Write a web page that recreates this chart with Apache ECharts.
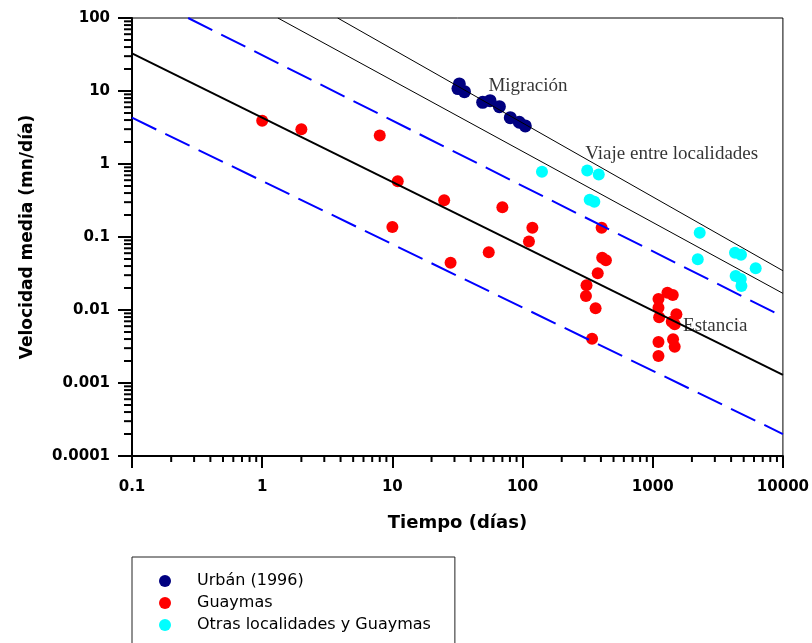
<!DOCTYPE html>
<html>
<head>
<meta charset="utf-8">
<script src="https://cdn.jsdelivr.net/npm/echarts@6/dist/echarts.min.js"></script>
<style>
  html, body { margin: 0; padding: 0; background: #fff; }
  #chart { width: 812px; height: 643px; }
</style>
</head>
<body>
<div id="chart"></div>
<script>
// Mean speed (mn/día) versus elapsed time (días), log–log.

// Urbán (1996) observations: [tiempo, velocidad]
const urbanPoints = [
  [32.7, 12.5], [31.9, 10.8], [35.8, 9.8], [49.4, 7.0], [56.3, 7.36],
  [66.4, 6.1], [80.5, 4.31], [94.4, 3.73], [105, 3.32]
];

// Guaymas observations
const guaymasPoints = [
  [1, 3.9], [2, 3.0], [8, 2.45], [11, 0.58], [10, 0.137],
  [25, 0.318], [28, 0.0445], [55, 0.0617], [70, 0.255], [119, 0.134],
  [112, 0.0867], [405, 0.134], [409, 0.052], [437, 0.048], [378, 0.0318],
  [310, 0.0218], [307, 0.0156], [364, 0.01055], [342, 0.00404],
  [1297, 0.01726], [1426, 0.016], [1107, 0.01415], [1107, 0.01075],
  [1520, 0.00873], [1120, 0.00794], [1400, 0.00692], [1475, 0.00637],
  [1107, 0.00365], [1433, 0.00397], [1475, 0.00314], [1107, 0.00234]
];

// Other localities and Guaymas
const otrasPoints = [
  [141, 0.782], [314, 0.815], [385, 0.718], [328, 0.324], [356, 0.305],
  [2296, 0.1146], [2218, 0.0495], [4285, 0.061], [4764, 0.0573],
  [6180, 0.0373], [4335, 0.0292], [4746, 0.0266], [4800, 0.0213]
];

// Reference lines (end points)
const lineEstancia = [[0.1, 32.8], [10000, 0.00129]];
const lineUpperBand = [[0.27, 100], [10000, 0.0081]];
const lineLowerBand = [[0.1, 4.31], [10000, 0.0002]];
const lineViaje = [[1.32, 100], [10000, 0.0169]];
const lineMigracion = [[3.8, 100], [10000, 0.0345]];

// Line captions anchored at data coordinates
const captions = [
  { name: 'Migración', value: [54.7, 11.7] },
  { name: 'Viaje entre localidades', value: [303, 1.37] },
  { name: 'Estancia', value: [1710, 0.00604] }
];

// Axis ticks and labels
const xTickLabels = ['0.1', '1', '10', '100', '1000', '10000'];
const yTickLabels = ['0.0001', '0.001', '0.01', '0.1', '1', '10', '100'];
const xMin = 0.1, xMax = 10000, yMin = 0.0001, yMax = 100;

const minorMultipliers = [2, 3, 4, 5, 6, 7, 8, 9];
const xMinorValues = [];
for (let e = -1; e < 4; e++) minorMultipliers.forEach(m => xMinorValues.push(+(m * Math.pow(10, e)).toPrecision(6)));
const yMinorValues = [];
for (let e = -4; e < 2; e++) minorMultipliers.forEach(m => yMinorValues.push(+(m * Math.pow(10, e)).toPrecision(6)));

const legendNames = ['Urbán (1996)', 'Guaymas', 'Otras localidades y Guaymas'];
const colors = { urban: '#000080', guaymas: '#ff0000', otras: '#00ffff' };

const tickFont = { fontFamily: 'DejaVu Sans', fontWeight: 'bold', fontSize: 15, color: '#000' };

function minorTick(dir, len) {
  return function (params, api) {
    const p = api.coord([api.value(0), api.value(1)]);
    const shape = dir === 'x'
      ? { x1: p[0], y1: p[1], x2: p[0], y2: p[1] + len }
      : { x1: p[0], y1: p[1], x2: p[0] - len, y2: p[1] };
    return { type: 'line', shape: shape, style: { stroke: '#000', lineWidth: 2 } };
  };
}

const chart = echarts.init(document.getElementById('chart'), null, { renderer: 'canvas' });

chart.setOption({
  backgroundColor: '#fff',
  animation: false,
  grid: {
    left: 132, top: 18, right: 28, bottom: 187,
    show: true, borderColor: '#000', borderWidth: 1, backgroundColor: 'transparent'
  },
  xAxis: {
    type: 'log', logBase: 10, min: xMin, max: xMax,
    name: 'Tiempo (días)', nameLocation: 'middle', nameGap: 58,
    nameTextStyle: { fontFamily: 'DejaVu Sans', fontWeight: 'bold', fontSize: 18, color: '#000' },
    axisLine: { show: true, lineStyle: { color: '#000', width: 2 } },
    axisTick: { show: true, inside: false, length: 12, lineStyle: { color: '#000', width: 2 } },
    axisLabel: Object.assign({ margin: 24, formatter: v => xTickLabels[Math.round(Math.log10(v)) + 1] }, tickFont),
    splitLine: { show: false }
  },
  yAxis: {
    type: 'log', logBase: 10, min: yMin, max: yMax, splitNumber: 6,
    name: 'Velocidad media (mn/día)', nameLocation: 'middle', nameGap: 96,
    nameTextStyle: { fontFamily: 'DejaVu Sans', fontWeight: 'bold', fontSize: 17, color: '#000' },
    axisLine: { show: true, lineStyle: { color: '#000', width: 2 } },
    axisTick: { show: true, inside: false, length: 14, lineStyle: { color: '#000', width: 2 } },
    axisLabel: Object.assign({ margin: 22, formatter: v => yTickLabels[Math.round(Math.log10(v)) + 4] }, tickFont),
    splitLine: { show: false }
  },
  legend: {
    data: legendNames.map(n => ({ name: n, icon: 'circle' })),
    orient: 'vertical',
    left: 132, top: 557, height: 200,
    padding: [16, 24, 20, 27],
    itemWidth: 12, itemHeight: 12, itemGap: 6,
    borderColor: '#222', borderWidth: 1,
    itemStyle: { opacity: 1 },
    textStyle: { fontFamily: 'DejaVu Sans', fontSize: 16, color: '#000', lineHeight: 16, padding: [0, 0, 0, 21] }
  },
  series: [
    {
      type: 'custom', name: 'xMinorTicks', silent: true, clip: false,
      data: xMinorValues.map(v => [v, yMin]),
      renderItem: minorTick('x', 6)
    },
    {
      type: 'custom', name: 'yMinorTicks', silent: true, clip: false,
      data: yMinorValues.map(v => [xMin, v]),
      renderItem: minorTick('y', 8)
    },
    {
      type: 'line', name: 'Estancia-line', data: lineEstancia, showSymbol: false, silent: true,
      lineStyle: { color: '#000', width: 2 }
    },
    {
      type: 'line', name: 'Banda superior', data: lineUpperBand, showSymbol: false, silent: true,
      lineStyle: { color: '#0000ff', width: 2, type: [27, 10] }
    },
    {
      type: 'line', name: 'Banda inferior', data: lineLowerBand, showSymbol: false, silent: true,
      lineStyle: { color: '#0000ff', width: 2, type: [27, 10] }
    },
    {
      type: 'line', name: 'Viaje-line', data: lineViaje, showSymbol: false, silent: true,
      lineStyle: { color: '#000', width: 1 }
    },
    {
      type: 'line', name: 'Migracion-line', data: lineMigracion, showSymbol: false, silent: true,
      lineStyle: { color: '#000', width: 1 }
    },
    {
      type: 'scatter', name: 'captions', data: captions, symbolSize: 0, silent: true,
      label: {
        show: true, position: 'right', distance: 0, formatter: p => p.name,
        fontFamily: 'Liberation Serif', fontSize: 19, color: '#000'
      }
    },
    {
      type: 'scatter', name: legendNames[1], data: guaymasPoints, symbol: 'circle', symbolSize: 12,
      itemStyle: { color: colors.guaymas, opacity: 1 }
    },
    {
      type: 'scatter', name: legendNames[2], data: otrasPoints, symbol: 'circle', symbolSize: 12,
      itemStyle: { color: colors.otras, opacity: 1 }
    },
    {
      type: 'scatter', name: legendNames[0], data: urbanPoints, symbol: 'circle', symbolSize: 13,
      itemStyle: { color: colors.urban, opacity: 1 }
    }
  ]
});
</script>
</body>
</html>
